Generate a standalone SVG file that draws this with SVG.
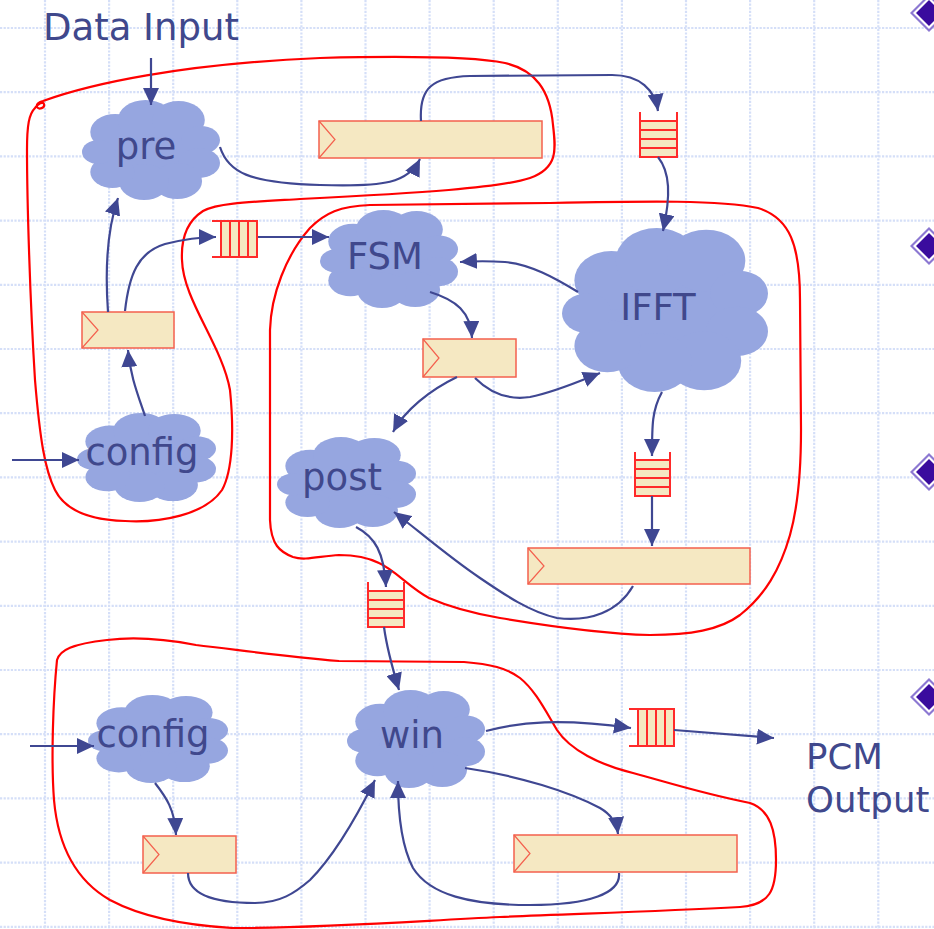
<svg xmlns="http://www.w3.org/2000/svg" xmlns:xlink="http://www.w3.org/1999/xlink" width="934" height="929" viewBox="0 0 934 929">
  <style>
    .grid { fill: none; stroke: #d5dff8; stroke-width: 2.2; stroke-dasharray: 2.2 1.4; }
    .edge { fill: none; stroke: #3f4792; stroke-width: 2.2; marker-end: url(#ah); }
    .bound { fill: none; stroke: #ff0000; stroke-width: 2.2; stroke-linejoin: round; }
    .cloud { fill: #96a6e0; }
    .lbl { font-family: "DejaVu Sans", Verdana, sans-serif; font-size: 37px; fill: #40488c; }
    .port { font-size: 35.5px; }
    .box { fill: #f5e8c2; stroke: #f4604e; stroke-width: 1.5; }
    .chev { fill: none; stroke: #f4604e; stroke-width: 1.2; }
    .fifo { fill: #f5e8c2; stroke: none; }
    .fl { fill: none; stroke: #ff2a2a; stroke-width: 2; }
  </style>
  <defs>
    <marker id="ah" markerUnits="userSpaceOnUse" markerWidth="18" markerHeight="16" refX="17" refY="8" orient="auto">
      <path d="M0,0 L17,8 L0,16 Z" fill="#3f4792"/>
    </marker>
    <symbol id="cloudShape" viewBox="0 0 100 100" preserveAspectRatio="none">
      <g class="cloud">
        <ellipse cx="50" cy="52" rx="40" ry="36"/>
        <circle cx="24" cy="32" r="18"/>
        <circle cx="46" cy="20" r="20"/>
        <circle cx="70" cy="20" r="19"/>
        <circle cx="86" cy="40" r="14"/>
        <circle cx="85" cy="63" r="15"/>
        <circle cx="69" cy="81" r="18"/>
        <circle cx="45" cy="82" r="18"/>
        <circle cx="22" cy="72" r="16"/>
        <circle cx="12" cy="52" r="12"/>
      </g>
    </symbol>
  </defs>

  <rect width="934" height="929" fill="#ffffff"/>

  <!-- background grid -->
  <path class="grid" d="M0,28 H934 M0,92.2 H934 M0,156.4 H934 M0,220.6 H934 M0,284.8 H934 M0,349 H934 M0,413.2 H934 M0,477.4 H934 M0,541.6 H934 M0,605.8 H934 M0,670 H934 M0,734.2 H934 M0,798.4 H934 M0,862.6 H934 M0,926.8 H934
    M45,0 V929 M109.1,0 V929 M173.2,0 V929 M237.3,0 V929 M301.4,0 V929 M365.5,0 V929 M429.6,0 V929 M493.7,0 V929 M557.8,0 V929 M621.9,0 V929 M686,0 V929 M750.1,0 V929 M814.2,0 V929 M878.3,0 V929"/>

  <!-- bullet diamonds at the right edge -->
  <g id="bullets">
    <g transform="translate(929,13)">
      <polygon points="0,-19 19,0 0,19 -19,0" fill="#8c78d2"/>
      <polygon points="0,-16 16,0 0,16 -16,0" fill="#ffffff"/>
      <polygon points="0,-13 13,0 0,13 -13,0" fill="#3a0c9e"/>
    </g>
    <g transform="translate(929,246)">
      <polygon points="0,-19 19,0 0,19 -19,0" fill="#8c78d2"/>
      <polygon points="0,-16 16,0 0,16 -16,0" fill="#ffffff"/>
      <polygon points="0,-13 13,0 0,13 -13,0" fill="#3a0c9e"/>
    </g>
    <g transform="translate(929,472)">
      <polygon points="0,-19 19,0 0,19 -19,0" fill="#8c78d2"/>
      <polygon points="0,-16 16,0 0,16 -16,0" fill="#ffffff"/>
      <polygon points="0,-13 13,0 0,13 -13,0" fill="#3a0c9e"/>
    </g>
    <g transform="translate(929,697)">
      <polygon points="0,-19 19,0 0,19 -19,0" fill="#8c78d2"/>
      <polygon points="0,-16 16,0 0,16 -16,0" fill="#ffffff"/>
      <polygon points="0,-13 13,0 0,13 -13,0" fill="#3a0c9e"/>
    </g>
  </g>

  <!-- partition boundaries -->
  <g id="boundaries">
    <path class="bound" d="M43,101 C90,84 180,64 320,58 C400,56 470,56 505,63 C535,70 550,90 553,125 C556,150 558,168 530,178 C500,188 420,193 300,199 C250,202 218,203 203,211 C186,222 181,240 182,260 C183,300 222,345 230,390 C234,430 233,470 222,490 C205,515 160,523 125,521 C90,520 65,510 55,490 C45,470 40,440 35,380 C30,300 27,200 27,150 C27,125 29,114 35,108 C38,104 43,101 44,104 C45,108 39,110 37,107 C36,104 39,102 43,101"/>
    <path class="bound" d="M270,330 C271,295 286,255 310,228 C325,213 340,206 370,205 L550,203 C650,201 720,200 758,208 C790,218 800,245 800,300 L801,430 C801,480 797,510 790,535 C780,570 765,595 740,615 C720,630 690,635 650,635 C610,634 560,628 500,618 C465,612 445,605 429,598 C410,588 395,570 379,563 C365,556 350,555 339,555 C320,556 305,561 293,557 C280,552 271,545 270,520 Z"/>
    <path class="bound" d="M57,660 C60,650 72,644 107,640 C140,636 170,640 196,645 C240,650 280,656 339,661 L464,662 C490,664 507,668 520,678 C535,690 545,710 557,730 C570,750 600,765 633,773 C670,783 700,793 750,803 C770,810 776,830 776,860 C776,890 770,905 740,907 C650,912 560,914 500,917 C400,922 320,928 233,928 C180,925 140,916 110,900 C75,880 58,845 54,800 C51,760 53,700 57,660 Z"/>
  </g>

  <!-- process nodes -->
  <g id="pre"><use xlink:href="#cloudShape" x="82" y="100" width="138" height="100"/><text class="lbl" x="146" y="159" text-anchor="middle">pre</text></g>
  <g id="fsm"><use xlink:href="#cloudShape" x="320" y="210" width="138" height="98"/><text class="lbl" x="385" y="269" text-anchor="middle">FSM</text></g>
  <g id="ifft"><use xlink:href="#cloudShape" x="562" y="228" width="206" height="164"/><text class="lbl" x="658" y="320" text-anchor="middle">IFFT</text></g>
  <g id="config1"><use xlink:href="#cloudShape" x="77" y="413" width="139" height="89"/><text class="lbl" x="142" y="465" text-anchor="middle">config</text></g>
  <g id="post"><use xlink:href="#cloudShape" x="277" y="437" width="139" height="91"/><text class="lbl" x="342" y="490" text-anchor="middle">post</text></g>
  <g id="config2"><use xlink:href="#cloudShape" x="88" y="695" width="140" height="88"/><text class="lbl" x="153" y="747" text-anchor="middle">config</text></g>
  <g id="win"><use xlink:href="#cloudShape" x="347" y="690" width="138" height="98"/><text class="lbl" x="412" y="748" text-anchor="middle">win</text></g>

  <!-- register blocks -->
  <g id="reg-top"><rect class="box" x="319" y="121" width="223" height="37"/><polyline class="chev" points="319,121 335,139.5 319,158"/></g>
  <g id="reg-left"><rect class="box" x="82" y="312" width="92" height="36"/><polyline class="chev" points="82,312 98,330 82,348"/></g>
  <g id="reg-mid"><rect class="box" x="423" y="339" width="93" height="38"/><polyline class="chev" points="423,339 439,358 423,377"/></g>
  <g id="reg-right"><rect class="box" x="528" y="548" width="222" height="36"/><polyline class="chev" points="528,548 544,566 528,584"/></g>
  <g id="reg-bl"><rect class="box" x="143" y="836" width="93" height="37"/><polyline class="chev" points="143,836 159,854.5 143,873"/></g>
  <g id="reg-br"><rect class="box" x="514" y="835" width="223" height="37"/><polyline class="chev" points="514,835 530,853.5 514,872"/></g>

  <!-- queues -->
  <g id="fifo-a"><rect class="fifo" x="640" y="121" width="37" height="36"/><path class="fl" d="M640,112 V157 H677 V112 M640,121 H677 M640,130 H677 M640,139 H677 M640,148 H677"/></g>
  <g id="fifo-b"><rect class="fifo" x="635" y="460" width="35" height="36"/><path class="fl" d="M635,452 V496 H670 V452 M635,460 H670 M635,469 H670 M635,478 H670 M635,487 H670"/></g>
  <g id="fifo-c"><rect class="fifo" x="368" y="591" width="36" height="36"/><path class="fl" d="M368,582 V627 H404 V582 M368,591 H404 M368,600 H404 M368,609 H404 M368,618 H404"/></g>
  <g id="fifo-d"><rect class="fifo" x="221" y="221" width="36" height="36"/><path class="fl" d="M212,221 H257 V257 H212 M221,221 V257 M230,221 V257 M239,221 V257 M248,221 V257"/></g>
  <g id="fifo-e"><rect class="fifo" x="638" y="709" width="36" height="37"/><path class="fl" d="M629,709 H674 V746 H629 M638,709 V746 M647,709 V746 M656,709 V746 M665,709 V746"/></g>

  <!-- connectors -->
  <g id="connectors">
    <path class="edge" d="M151,58 L151,105"/>
    <path class="edge" d="M220,147 C228,172 248,183 320,185 C385,187 408,183 420,159"/>
    <path class="edge" d="M421,121 C419,88 432,77 470,76 L612,75 C640,75 655,90 658,111"/>
    <path class="edge" d="M658,157 C670,172 671,195 663,231"/>
    <path class="edge" d="M578,292 C555,278 530,264 505,262 C490,261 475,261 460,262"/>
    <path class="edge" d="M430,292 C456,300 471,312 472,338"/>
    <path class="edge" d="M475,378 C492,395 510,400 530,397 C555,392 580,381 600,373"/>
    <path class="edge" d="M457,377 C430,390 405,410 393,432"/>
    <path class="edge" d="M662,392 C652,410 652,425 652,456"/>
    <path class="edge" d="M652,496 L652,546"/>
    <path class="edge" d="M633,586 C618,612 590,622 557,618 C530,612 505,595 480,578 C450,558 420,532 394,512"/>
    <path class="edge" d="M356,527 C375,537 384,552 386,587"/>
    <path class="edge" d="M384,627 C387,650 393,670 399,690"/>
    <path class="edge" d="M108,312 C105,270 107,230 118,198"/>
    <path class="edge" d="M125,311 C129,275 138,252 165,244 C185,239 200,237 216,237"/>
    <path class="edge" d="M145,416 C138,395 130,375 128,350"/>
    <path class="edge" d="M12,460 L79,460"/>
    <path class="edge" d="M258,237 L329,237"/>
    <path class="edge" d="M30,746 L94,746"/>
    <path class="edge" d="M155,783 C166,797 175,810 176,835"/>
    <path class="edge" d="M188,873 C188,893 210,903 255,903 C280,903 295,893 310,880 C335,855 360,810 375,780"/>
    <path class="edge" d="M619,873 C621,893 590,905 530,905 C470,905 430,895 413,868 C401,845 398,810 398,781"/>
    <path class="edge" d="M465,768 C520,776 570,792 600,808 C612,815 617,825 618,834"/>
    <path class="edge" d="M486,731 C520,722 560,718 631,728"/>
    <path class="edge" d="M674,730 L774,738"/>
  </g>

  <!-- port labels -->
  <g id="labels">
    <text class="lbl" x="43" y="40">Data Input</text>
    <text class="lbl port" x="806" y="769">PCM</text>
    <text class="lbl port" x="806" y="812">Output</text>
  </g>
</svg>
